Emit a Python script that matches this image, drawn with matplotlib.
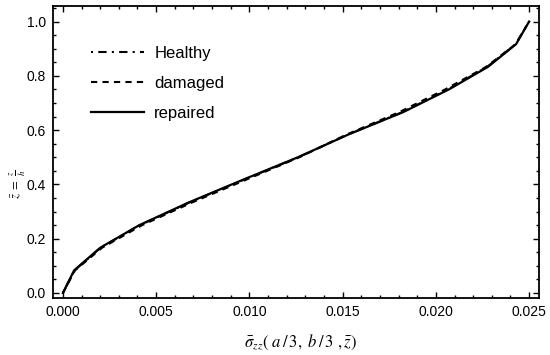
import matplotlib.pyplot as plt
from matplotlib.ticker import MultipleLocator

# z-bar levels (12 layers)
z_bar = [0.0, 0.0833, 0.1667, 0.25, 0.3333, 0.4167, 0.5, 0.5833, 0.6667, 0.75, 0.8333, 0.9167, 1.0]

# normalised sigma_zz at (a/3, b/3, z)
sigma_healthy = [0.0, 0.00062, 0.00202, 0.00413, 0.00678, 0.00968, 0.01262, 0.01527, 0.01822, 0.02065, 0.02275, 0.02428, 0.0250]
sigma_damaged = [0.0, 0.00065, 0.00210, 0.00425, 0.00692, 0.00980, 0.01268, 0.01520, 0.01805, 0.02050, 0.02270, 0.02428, 0.0250]
sigma_repaired = [0.0, 0.00060, 0.00200, 0.00410, 0.00674, 0.00964, 0.01260, 0.01529, 0.01826, 0.02070, 0.02280, 0.02430, 0.0250]

plt.rcParams['font.family'] = ['Liberation Sans', 'DejaVu Sans']
plt.rcParams['mathtext.fontset'] = 'stix'

fig = plt.figure(figsize=(5.5, 3.55), dpi=100)
ax = fig.add_axes([0.0964, 0.1606, 0.8836, 0.8224])

ax.plot(sigma_healthy, z_bar, color='black', lw=1.5, linestyle=(0, (1, 2.5, 4, 2.5)), label='Healthy')
ax.plot(sigma_damaged, z_bar, color='black', lw=1.5, linestyle=(0, (3, 2.5)), label='damaged')
ax.plot(sigma_repaired, z_bar, color='black', lw=1.6, linestyle='-', label='repaired')

ax.set_xlim(-0.00053, 0.02553)
ax.set_ylim(-0.0184, 1.0571)
ax.xaxis.set_major_locator(MultipleLocator(0.005))
ax.xaxis.set_minor_locator(MultipleLocator(0.001))
ax.yaxis.set_major_locator(MultipleLocator(0.2))
ax.yaxis.set_minor_locator(MultipleLocator(0.05))
ax.xaxis.set_major_formatter(plt.FormatStrFormatter('%.3f'))
ax.yaxis.set_major_formatter(plt.FormatStrFormatter('%.1f'))

ax.tick_params(which='both', direction='in', top=True, right=True, labelsize=10, color='black', width=1)
ax.tick_params(which='major', length=4.5, pad=5)
ax.tick_params(which='minor', length=2.5)
for s in ax.spines.values():
    s.set_linewidth(1.3)

ax.set_xlabel(r'$\bar{\sigma}_{zz}(\ a\,/\,3,\ b\,/\,3\ ,\bar{z})$', fontsize=12)
ax.xaxis.set_label_coords(0.51, -0.12)
ax.set_ylabel(r'$\bar{z}\ =\ \frac{z}{h}$', fontsize=9)
ax.yaxis.set_label_coords(-0.052, 0.39)

ax.legend(loc='upper left', bbox_to_anchor=(0.078, 0.862), frameon=False, fontsize=12,
          handlelength=3.2, handletextpad=0.6, labelspacing=0.9, borderpad=0, borderaxespad=0)

fig.savefig('out.png', dpi=100)
